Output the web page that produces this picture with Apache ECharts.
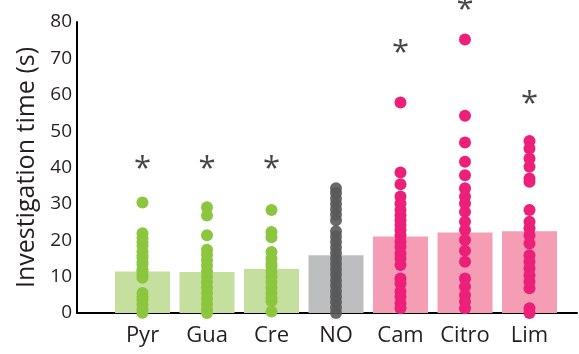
<!DOCTYPE html>
<html><head><meta charset="utf-8">
<script src="https://cdn.jsdelivr.net/npm/echarts@6/dist/echarts.min.js"></script>
<style>html,body{margin:0;padding:0;background:#fff}#c{width:579px;height:354px}</style>
</head><body><div id="c"></div>
<script>
const categories = ['Pyr','Gua','Cre','NO','Cam','Citro','Lim'];
const means = [11.4, 11.3, 12.1, 15.9, 21.0, 22.1, 22.5];
const pyr = [30.4, 21.9, 20.6, 19.5, 18.5, 16.9, 15.8, 15.1, 14.0, 13.3, 12.0, 11.5, 10.5, 9.7, 5.5, 4.5, 3.5, 2.3, 1.0, 0.1];
const gua = [29.1, 26.8, 21.4, 17.4, 16.0, 14.5, 13.0, 11.5, 10.0, 8.5, 7.0, 5.5, 4.0, 2.5, 1.0, 0.0];
const cre = [28.3, 22.3, 20.8, 16.8, 15.0, 13.5, 12.7, 11.3, 10.0, 8.5, 7.0, 5.5, 4.2, 3.2, 0.4];
const no = [34.3, 33.0, 31.5, 30.0, 28.5, 27.0, 25.5, 22.5, 21.0, 19.5, 18.0, 16.5, 15.0, 13.5, 12.0, 10.5, 9.0, 7.5, 6.0, 4.5, 3.0, 1.5, 0.0];
const cam = [57.9, 38.6, 35.4, 32.0, 30.1, 28.3, 26.9, 25.5, 24.2, 22.8, 21.4, 19.6, 18.2, 16.4, 15.0, 13.2, 9.5, 8.2, 5.9, 4.5, 2.7, 1.3];
const citro = [75.2, 54.2, 46.9, 41.6, 37.9, 34.3, 32.0, 30.1, 27.8, 25.1, 22.8, 20.1, 17.1, 14.1, 9.5, 7.2, 4.9, 3.1, 1.3];
const lim = [47.3, 45.2, 42.5, 40.2, 37.0, 36.1, 28.3, 25.1, 23.3, 21.4, 19.1, 15.9, 14.1, 12.3, 10.4, 8.6, 6.8, 1.3, 0.0];
const sigY = [41, 41, 41, null, 72.8, 84.6, 58.8];
const yMin = 0, yMax = 80, yStep = 10;

const points = [pyr, gua, cre, no, cam, citro, lim];
const barColors = ['#c5e09e','#c5e09e','#c5e09e','#bdbec0','#f49db4','#f49db4','#f49db4'];
const dotColors = ['#8cc63f','#8cc63f','#8cc63f','#58595b','#ec1f79','#ec1f79','#ec1f79'];
const FONT = 'Open Sans';
const TXT = '#231f20';

const chart = echarts.init(document.getElementById('c'));
const series = [];
series.push({
  type: 'bar', xAxisIndex: 1, yAxisIndex: 1, barWidth: 55, z: 1,
  data: means.map((v, i) => ({ value: v, itemStyle: { color: barColors[i] } })),
  silent: true
});
points.forEach((arr, i) => {
  series.push({
    type: 'scatter', xAxisIndex: 1, yAxisIndex: 1, clip: false, z: 3,
    symbolSize: 12,
    itemStyle: { color: dotColors[i], opacity: i === 3 ? 0.9 : 1 },
    data: arr.map(v => [categories[i], v]),
    silent: true
  });
});
series.push({
  type: 'scatter', xAxisIndex: 1, yAxisIndex: 1, clip: false, z: 4,
  symbolSize: 2, itemStyle: { color: 'rgba(0,0,0,0)' },
  label: { show: true, position: 'inside', formatter: '*', fontFamily: FONT, fontSize: 31, color: '#1a1718', offset: [0, 5] },
  data: sigY.map((v, i) => v == null ? null : [categories[i], v]).filter(d => d),
  silent: true
});

chart.setOption({
  animation: false,
  grid: [
    { left: 77, right: 2, top: 22, bottom: 41 },
    { left: 110.25, width: 451.5, top: 22, bottom: 41 }
  ],
  xAxis: [
    { gridIndex: 0, type: 'value', min: 0, max: 1,
      axisLine: { show: true, onZero: false, lineStyle: { color: '#000', width: 2 } },
      axisTick: { show: false }, axisLabel: { show: false }, splitLine: { show: false } },
    { gridIndex: 1, type: 'category', data: categories,
      axisLine: { show: false }, axisTick: { show: false }, splitLine: { show: false },
      axisLabel: { fontFamily: FONT, fontSize: 22, color: TXT, margin: 12 } }
  ],
  yAxis: [
    { gridIndex: 0, type: 'value', min: yMin, max: yMax, interval: yStep,
      axisLine: { show: true, lineStyle: { color: '#000', width: 2 } },
      axisTick: { show: false }, splitLine: { show: false },
      axisLabel: { fontFamily: FONT, fontSize: 19, color: TXT, margin: 5 },
      name: 'Investigation time (s)', nameLocation: 'middle', nameGap: 33,
      nameTextStyle: { fontFamily: FONT, fontSize: 25, color: TXT } },
    { gridIndex: 1, type: 'value', min: yMin, max: yMax, show: false }
  ],
  series: series
});
</script></body></html>
